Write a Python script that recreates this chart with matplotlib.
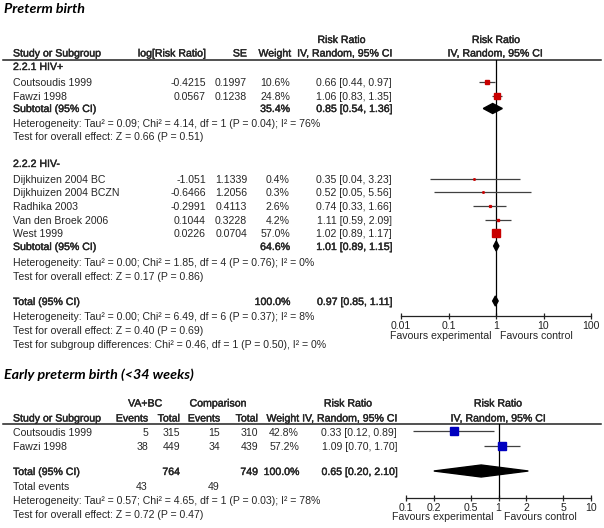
import numpy as np
import matplotlib.pyplot as plt
import matplotlib.patheffects as pe
from matplotlib.patches import Polygon

plt.rcParams['font.family'] = ['Liberation Sans', 'DejaVu Sans']

# ---- Preterm birth: HIV+ subgroup
pos_study = ["Coutsoudis 1999", "Fawzi 1998"]
pos_logrr = [-0.4215, 0.0567]
pos_se = [0.1997, 0.1238]
pos_weight = [10.6, 24.8]
pos_rr = [0.66, 1.06]
pos_lo = [0.44, 0.83]
pos_hi = [0.97, 1.35]
pos_sub_weight = 35.4
pos_sub_ci = [0.85, 0.54, 1.36]
pos_het = "Heterogeneity: Tau² = 0.09; Chi² = 4.14, df = 1 (P = 0.04); I² = 76%"
pos_test = "Test for overall effect: Z = 0.66 (P = 0.51)"

# ---- Preterm birth: HIV- subgroup
neg_study = ["Dijkhuizen 2004 BC", "Dijkhuizen 2004 BCZN", "Radhika 2003",
             "Van den Broek 2006", "West 1999"]
neg_logrr = [-1.051, -0.6466, -0.2991, 0.1044, 0.0226]
neg_se = [1.1339, 1.2056, 0.4113, 0.3228, 0.0704]
neg_weight = [0.4, 0.3, 2.6, 4.2, 57.0]
neg_rr = [0.35, 0.52, 0.74, 1.11, 1.02]
neg_lo = [0.04, 0.05, 0.33, 0.59, 0.89]
neg_hi = [3.23, 5.56, 1.66, 2.09, 1.17]
neg_sub_weight = 64.6
neg_sub_ci = [1.01, 0.89, 1.15]
neg_het = "Heterogeneity: Tau² = 0.00; Chi² = 1.85, df = 4 (P = 0.76); I² = 0%"
neg_test = "Test for overall effect: Z = 0.17 (P = 0.86)"

all_ci = [0.97, 0.85, 1.11]
all_het = "Heterogeneity: Tau² = 0.00; Chi² = 6.49, df = 6 (P = 0.37); I² = 8%"
all_test = "Test for overall effect: Z = 0.40 (P = 0.69)"
all_sub = "Test for subgroup differences: Chi² = 0.46, df = 1 (P = 0.50), I² = 0%"

# ---- Early preterm birth (<34 weeks)
early_study = ["Coutsoudis 1999", "Fawzi 1998"]
early_ev_t = [5, 38]
early_n_t = [315, 449]
early_ev_c = [15, 34]
early_n_c = [310, 439]
early_weight = [42.8, 57.2]
early_rr = [0.33, 1.09]
early_lo = [0.12, 0.70]
early_hi = [0.89, 1.70]
early_total_ci = [0.65, 0.20, 2.10]
early_het = "Heterogeneity: Tau² = 0.57; Chi² = 4.65, df = 1 (P = 0.03); I² = 78%"
early_test = "Test for overall effect: Z = 0.72 (P = 0.47)"

top_ticks = [0.01, 0.1, 1, 10, 100]
bot_ticks = [0.1, 0.2, 0.5, 1, 2, 5, 10]

W, H = 604, 528
TXT = '#262626'
FS = 7.6
RED = '#c80000'
BLUE = '#0000c0'

fig = plt.figure(figsize=(W / 100, H / 100), dpi=100)
ax = fig.add_axes([0, 0, 1, 1])
ax.set_xlim(0, W)
ax.set_ylim(H, 0)
ax.axis('off')

# bold look with regular advance widths (like the source renderer)
BOLD = [pe.withStroke(linewidth=0.3, foreground=TXT)]


def put(x, y, s, ha='left', bold=False, size=FS):
    ax.text(x, y, s, ha=ha, va='center', fontsize=size, color=TXT,
            path_effects=BOLD if bold else None)


def ci_text(c):
    return f"{c[0]:.2f} [{c[1]:.2f}, {c[2]:.2f}]"


def forest_axes(x0, x1, y0, y1, lim, ticks):
    fa = fig.add_axes([x0 / W, 1 - y1 / H, (x1 - x0) / W, (y1 - y0) / H])
    fa.set_xscale('log')
    fa.set_xlim(*lim)
    fa.set_ylim(y1, y0)
    fa.patch.set_alpha(0)
    for s in ['top', 'left', 'right']:
        fa.spines[s].set_visible(False)
    fa.spines['bottom'].set_color('#222222')
    fa.spines['bottom'].set_linewidth(0.9)
    fa.set_yticks([])
    fa.set_xticks(ticks)
    fa.set_xticklabels([f"{t:g}" for t in ticks])
    fa.minorticks_off()
    fa.tick_params(axis='x', direction='inout', length=5, width=0.9,
                   pad=1.2, labelsize=FS, colors='#222222')
    fa.axvline(1, color='black', lw=0.9)
    return fa


def study(fa, y, rr, lo, hi, w, color):
    fa.hlines(y, lo, hi, color='#404040', lw=0.9)
    side = max(1.15 * np.sqrt(w), 1.4)
    fa.plot([rr], [y], marker='s', ms=side * 0.72, color=color, mec=color, lw=0)


def diamond(fa, y, c, h):
    fa.add_patch(Polygon([(c[1], y), (c[0], y - h / 2), (c[2], y),
                          (c[0], y + h / 2)], closed=True, color='black'))


# ================= Preterm birth =================
ax.text(4, 9, "Preterm birth", fontsize=10.3, fontweight='bold', style='italic',
        family=['Lato', 'DejaVu Sans'], va='center', color='black')

put(341.5, 40, "Risk Ratio", 'center', True)
put(496, 40, "Risk Ratio", 'center', True)
put(13, 53.5, "Study or Subgroup", bold=True)
put(206, 53.5, "log[Risk Ratio]", 'right', True)
put(247, 53.5, "SE", 'right', True)
put(291, 53.5, "Weight", 'right', True)
put(392, 53.5, "IV, Random, 95% CI", 'right', True)
put(495, 53.5, "IV, Random, 95% CI", 'center', True)
ax.plot([3, 601], [60, 60], color='#222222', lw=1.1)

fa1 = forest_axes(401, 591, 60, 316, (0.01, 100), top_ticks)

put(13, 67, "2.2.1 HIV+", bold=True)
rows_pos = [83, 97]
for i, y in enumerate(rows_pos):
    put(13, y, pos_study[i])
    put(206, y, f"{pos_logrr[i]:g}", 'right')
    put(247, y, f"{pos_se[i]:g}", 'right')
    put(290, y, f"{pos_weight[i]:.1f}%", 'right')
    put(392, y, ci_text([pos_rr[i], pos_lo[i], pos_hi[i]]), 'right')
    study(fa1, y - 1.5, pos_rr[i], pos_lo[i], pos_hi[i], pos_weight[i], RED)
put(13, 109, "Subtotal (95% CI)", bold=True)
put(290, 109, f"{pos_sub_weight:.1f}%", 'right', True)
put(392, 109, ci_text(pos_sub_ci), 'right', True)
diamond(fa1, 108.5, pos_sub_ci, 10)
put(13, 124, pos_het)
put(13, 137.5, pos_test)

put(13, 164, "2.2.2 HIV-", bold=True)
rows_neg = [180, 193.5, 207, 221, 234]
for i, y in enumerate(rows_neg):
    put(13, y, neg_study[i])
    put(206, y, f"{neg_logrr[i]:g}", 'right')
    put(247, y, f"{neg_se[i]:g}", 'right')
    put(290, y, f"{neg_weight[i]:.1f}%", 'right')
    put(392, y, ci_text([neg_rr[i], neg_lo[i], neg_hi[i]]), 'right')
    study(fa1, y - 1.5, neg_rr[i], neg_lo[i], neg_hi[i], neg_weight[i], RED)
put(13, 247, "Subtotal (95% CI)", bold=True)
put(290, 247, f"{neg_sub_weight:.1f}%", 'right', True)
put(392, 247, ci_text(neg_sub_ci), 'right', True)
diamond(fa1, 246, neg_sub_ci, 10)
put(13, 263, neg_het)
put(13, 276.5, neg_test)

put(13, 302, "Total (95% CI)", bold=True)
put(290, 302, f"{pos_sub_weight + neg_sub_weight:.1f}%", 'right', True)
put(392, 302, ci_text(all_ci), 'right', True)
diamond(fa1, 301, all_ci, 10)
put(13, 317, all_het)
put(13, 331, all_test)
put(13, 345, all_sub)

put(492, 336, "Favours experimental", 'right')
put(500, 336, "Favours control")

# ================= Early preterm birth =================
ax.text(4, 375, "Early preterm birth (<34 weeks)", fontsize=10.3, fontweight='bold',
        style='italic', family=['Lato', 'DejaVu Sans'], va='center', color='black')

put(145, 403.5, "VA+BC", 'center', True)
put(218, 403.5, "Comparison", 'center', True)
put(348, 403.5, "Risk Ratio", 'center', True)
put(498, 403.5, "Risk Ratio", 'center', True)
put(13, 418.5, "Study or Subgroup", bold=True)
put(148, 418.5, "Events", 'right', True)
put(180, 418.5, "Total", 'right', True)
put(220, 418.5, "Events", 'right', True)
put(258, 418.5, "Total", 'right', True)
put(299, 418.5, "Weight", 'right', True)
put(397, 418.5, "IV, Random, 95% CI", 'right', True)
put(498, 418.5, "IV, Random, 95% CI", 'center', True)
ax.plot([3, 601], [424, 424], color='#222222', lw=1.1)

fa2 = forest_axes(406, 591, 424, 497.5, (0.1, 10), bot_ticks)

rows_early = [432.5, 447.5]
for i, y in enumerate(rows_early):
    put(13, y, early_study[i])
    put(148, y, str(early_ev_t[i]), 'right')
    put(180, y, str(early_n_t[i]), 'right')
    put(220, y, str(early_ev_c[i]), 'right')
    put(258, y, str(early_n_c[i]), 'right')
    put(299, y, f"{early_weight[i]:.1f}%", 'right')
    put(397, y, ci_text([early_rr[i], early_lo[i], early_hi[i]]), 'right')
    study(fa2, y - 1.5, early_rr[i], early_lo[i], early_hi[i], early_weight[i], BLUE)

put(13, 472, "Total (95% CI)", bold=True)
put(180, 472, str(sum(early_n_t)), 'right', True)
put(258, 472, str(sum(early_n_c)), 'right', True)
put(299, 472, f"{sum(early_weight):.1f}%", 'right', True)
put(397, 472, ci_text(early_total_ci), 'right', True)
diamond(fa2, 471, early_total_ci, 12)
put(13, 487, "Total events")
put(148, 487, str(sum(early_ev_t)), 'right')
put(220, 487, str(sum(early_ev_c)), 'right')
put(13, 500.5, early_het)
put(13, 514.5, early_test)

put(493, 517, "Favours experimental", 'right')
put(504, 517, "Favours control")

fig.savefig("out.png", dpi=100)
